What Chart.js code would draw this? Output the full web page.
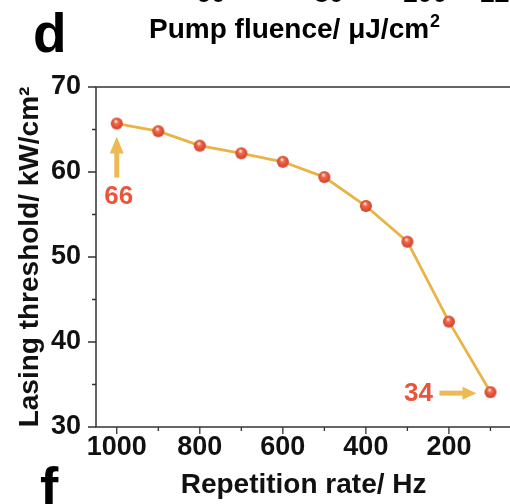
<!DOCTYPE html>
<html>
<head>
<meta charset="utf-8">
<script src="https://cdn.jsdelivr.net/npm/chart.js@4.4.1/dist/chart.umd.min.js"></script>
<style>
  html, body { margin: 0; padding: 0; background: #fff; overflow: hidden; }
  #wrap { width: 520px; height: 504px; }
</style>
</head>
<body>
<div id="wrap"><canvas id="chart" width="520" height="504"></canvas></div>
<script>
// datos
const repRate = [1000, 900, 800, 700, 600, 500, 400, 300, 200, 100];
const threshold = [65.7, 64.8, 63.1, 62.2, 61.2, 59.4, 56.0, 51.8, 42.4, 34.1];
const xTickValues = [1000, 900, 800, 700, 600, 500, 400, 300, 200, 100];
const yTickValues = [30, 35, 40, 45, 50, 55, 60, 65, 70];
const topCutLabels = ['60', '80', '100', '120'];
const calloutFirst = '66';
const calloutLast = '34';

const FONT = '"Liberation Sans", Arial, sans-serif';
const RED = '#e9553b';
const GOLD = '#e9b445';
const ARROW = '#ecba55';
const AXIS = '#333';

// bolita roja con brillo
function makeBall(r) {
    const c = document.createElement('canvas');
    const s = r * 2 + 2;
    c.width = c.height = s;
    const g = c.getContext('2d');
    const m = s / 2;
    const grad = g.createRadialGradient(m - 1, m - 2.5, 0.5, m, m, r);
    grad.addColorStop(0, '#fff0e8');
    grad.addColorStop(0.3, '#f26a4b');
    grad.addColorStop(1, '#cf3f28');
    g.fillStyle = grad;
    g.beginPath();
    g.arc(m, m, r, 0, Math.PI * 2);
    g.fill();
    return c;
}

const ball = makeBall(6);

// marco, ticks menores y anotaciones
const decorPlugin = {
    id: 'decor',
    beforeDatasetsDraw(chart) {
        const { ctx, chartArea: a, scales: { x, y } } = chart;
        ctx.save();
        ctx.strokeStyle = AXIS;
        ctx.lineWidth = 1.5;
        ctx.strokeRect(a.left, a.top, a.right - a.left, a.bottom - a.top);
        ctx.lineWidth = 1.3;
        ctx.beginPath();
        xTickValues.forEach(v => {
            const px = x.getPixelForValue(v);
            const len = v % 200 === 0 ? 7 : 4;
            ctx.moveTo(px, a.bottom);
            ctx.lineTo(px, a.bottom + len);
        });
        yTickValues.forEach(v => {
            const py = y.getPixelForValue(v);
            const len = v % 10 === 0 ? 8 : 4;
            ctx.moveTo(a.left, py);
            ctx.lineTo(a.left - len, py);
        });
        ctx.stroke();
        ctx.restore();
    },
    afterDatasetsDraw(chart) {
        const { ctx, scales: { x, y } } = chart;
        ctx.save();

        // letras de panel y titulo del panel superior
        ctx.fillStyle = '#000';
        ctx.textAlign = 'left';
        ctx.textBaseline = 'alphabetic';
        ctx.font = 'bold 55px ' + FONT;
        ctx.fillText('d', 33, 52);
        ctx.fillText('f', 40, 506);
        ctx.font = 'bold 28px ' + FONT;
        const main = 'Pump fluence/ μJ/cm';
        ctx.fillText(main, 149, 38);
        const w = ctx.measureText(main).width;
        ctx.font = 'bold 18px ' + FONT;
        ctx.fillText('2', 149 + w + 1, 27);
        ctx.font = 'bold 27px ' + FONT;
        ctx.textAlign = 'center';
        const cutX = [211, 329, 425, 502];
        topCutLabels.forEach((t, i) => ctx.fillText(t, cutX[i], 2));

        // flecha hacia arriba + "66"
        let px = x.getPixelForValue(repRate[0]);
        let py = y.getPixelForValue(threshold[0]);
        ctx.fillStyle = ARROW;
        ctx.fillRect(px - 2.5, py + 28, 5, 26);
        ctx.beginPath();
        ctx.moveTo(px, py + 13);
        ctx.lineTo(px - 7, py + 30);
        ctx.lineTo(px + 7, py + 30);
        ctx.closePath();
        ctx.fill();
        ctx.fillStyle = RED;
        ctx.font = 'bold 26px ' + FONT;
        ctx.textBaseline = 'middle';
        ctx.fillText(calloutFirst, px + 2, py + 73);

        // flecha hacia la derecha + "34"
        const last = repRate.length - 1;
        px = x.getPixelForValue(repRate[last]);
        py = y.getPixelForValue(threshold[last]);
        ctx.fillStyle = ARROW;
        ctx.fillRect(px - 51, py - 1.5, 26, 5);
        ctx.beginPath();
        ctx.moveTo(px - 14, py + 1);
        ctx.lineTo(px - 28, py - 5.5);
        ctx.lineTo(px - 28, py + 7.5);
        ctx.closePath();
        ctx.fill();
        ctx.fillStyle = RED;
        ctx.fillText(calloutLast, px - 72, py + 2);

        ctx.restore();
    }
};

const tickFont = { family: FONT, size: 27, weight: 'bold' };
const titleFont = { family: FONT, size: 28, weight: 'bold' };

new Chart(document.getElementById('chart'), {
    type: 'line',
    data: {
        datasets: [{
            data: repRate.map((v, i) => ({ x: v, y: threshold[i] })),
            borderColor: GOLD,
            borderWidth: 2.8,
            pointStyle: ball,
            pointRadius: 6,
            pointHoverRadius: 6,
            tension: 0,
            fill: false
        }]
    },
    options: {
        responsive: false,
        animation: false,
        devicePixelRatio: 1,
        layout: { padding: { top: 87, right: 4, left: 0, bottom: 0 } },
        plugins: {
            legend: { display: false },
            tooltip: { enabled: false }
        },
        scales: {
            x: {
                type: 'linear',
                reverse: true,
                min: 50,
                max: 1050,
                afterBuildTicks: s => { s.ticks = xTickValues.map(v => ({ value: v })); },
                afterFit: s => { s.height = 77; },
                grid: { display: false, drawTicks: false },
                border: { display: false },
                ticks: {
                    autoSkip: false,
                    maxRotation: 0,
                    padding: 4,
                    color: '#111',
                    font: tickFont,
                    callback: v => (v % 200 === 0 ? v : '')
                },
                title: {
                    display: true,
                    text: 'Repetition rate/ Hz',
                    color: '#111',
                    font: titleFont,
                    padding: { top: 0, bottom: 2 }
                }
            },
            y: {
                min: 30,
                max: 70,
                afterBuildTicks: s => { s.ticks = yTickValues.map(v => ({ value: v })); },
                afterFit: s => { s.width = 96; },
                grid: { display: false, drawTicks: false },
                border: { display: false },
                ticks: {
                    autoSkip: false,
                    padding: 15,
                    color: '#111',
                    font: tickFont,
                    callback: v => (v % 10 === 0 ? v : '')
                },
                title: {
                    display: true,
                    text: 'Lasing threshold/ kW/cm²',
                    color: '#111',
                    font: titleFont,
                    padding: { top: 13, bottom: 0 }
                }
            }
        }
    },
    plugins: [decorPlugin]
});
</script>
</body>
</html>
